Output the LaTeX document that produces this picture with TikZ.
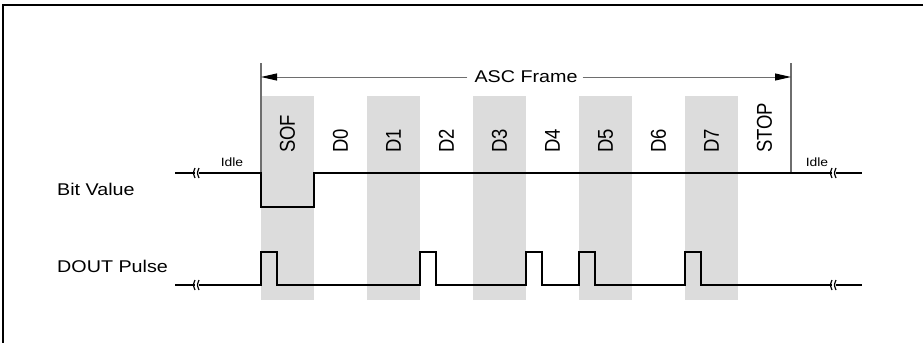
\documentclass[tikz,border=0pt]{standalone}
\usepackage{fontspec}
\setmainfont{Liberation Sans}
\usetikzlibrary{arrows.meta}
\definecolor{cellgray}{RGB}{220,220,220}
\definecolor{refgray}{RGB}{110,110,110}
\tikzset{
  sig/.style={line width=2pt, black, line join=miter},
  refline/.style={line width=1.5pt, refgray},
  dimline/.style={line width=1pt, refgray},
  tip/.style={-{Triangle[length=16pt,width=7pt,color=black]}},
  lbl/.style={inner sep=0pt, font=\fontsize{17}{20}\selectfont},
  bitlbl/.style={inner sep=0pt, anchor=south, font=\fontsize{18.5}{22}\selectfont},
  idlelbl/.style={inner sep=0pt, anchor=base, font=\fontsize{12}{14}\selectfont},
  brk/.style={line width=1.2pt, black},
}
\newcommand{\sx}[1]{\scalebox{1.16}[1]{#1}}
\newcommand{\rx}[1]{\scalebox{1.16}[1]{\rotatebox{90}{#1}}}
\begin{document}
\begin{tikzpicture}[x=1pt,y=-1pt]
\useasboundingbox (0,0) rectangle (924,343);
% outer frame (top and left)
\draw[line width=2pt] (923,5) -- (3,5) -- (3,343);
% shaded cells
\foreach \a in {261,367,473,579,685}
  \fill[cellgray] (\a,96) rectangle ({\a+53},300);
% frame reference lines
\coordinate (lt) at (261,63);
\coordinate (lb) at (261,173);
\coordinate (rt) at (791,63);
\coordinate (rb) at (791,173);
\draw[refline] (lt) -- (lb);
\draw[refline] (rt) -- (rb);
% ASC Frame dimension
\node[lbl] (frame) at (526,77) {\sx{ASC Frame}};
\coordinate (al) at (261,77);
\coordinate (ar) at (791,77);
\draw[dimline,tip] ([xshift=-7pt]frame.west) -- (al);
\draw[dimline,tip] ([xshift=5pt]frame.east) -- (ar);
% bit labels
\node[bitlbl] (sof) at (287.5,153) {\rx{SOF}};
\node[bitlbl] (d0) at (340.5,153) {\rx{D0}};
\node[bitlbl] (d1) at (393.5,153) {\rx{D1}};
\node[bitlbl] (d2) at (446.5,153) {\rx{D2}};
\node[bitlbl] (d3) at (499.5,153) {\rx{D3}};
\node[bitlbl] (d4) at (552.5,153) {\rx{D4}};
\node[bitlbl] (d5) at (605.5,153) {\rx{D5}};
\node[bitlbl] (d6) at (658.5,153) {\rx{D6}};
\node[bitlbl] (d7) at (711.5,153) {\rx{D7}};
\node[bitlbl] (stop) at (764.5,153) {\rx{STOP}};
% idle labels
\node[idlelbl] (idl) at (232,166) {\sx{Idle}};
\node[idlelbl] (idr) at (817,166) {\sx{Idle}};
% row labels
\node[lbl,anchor=base west] (bv) at (57,195) {\sx{Bit Value}};
\node[lbl,anchor=base west] (dp) at (57,272) {\sx{DOUT Pulse}};
% Bit value signal
\draw[sig] (175,173) -- (261,173) -- (261,207) -- (314,207) -- (314,173) -- (862,173);
% DOUT pulse signal
\draw[sig] (175,285) -- (261,285) -- (261,252) -- (277,252) -- (277,285)
  -- (420,285) -- (420,252) -- (436,252) -- (436,285)
  -- (526,285) -- (526,252) -- (542,252) -- (542,285)
  -- (579,285) -- (579,252) -- (595,252) -- (595,285)
  -- (685,285) -- (685,252) -- (701,252) -- (701,285)
  -- (862,285);
% break marks
\foreach \bx in {197,834}
  \foreach \by in {173,285} {
    \fill[white] (\bx-2,\by-3) rectangle (\bx+2,\by+3);
    \draw[brk] (\bx-2,\by-5) .. controls (\bx-4,\by) .. (\bx-2,\by+5);
    \draw[brk] (\bx+2,\by-5) .. controls (\bx,\by) .. (\bx+2,\by+5);
  }
\end{tikzpicture}
\end{document}
